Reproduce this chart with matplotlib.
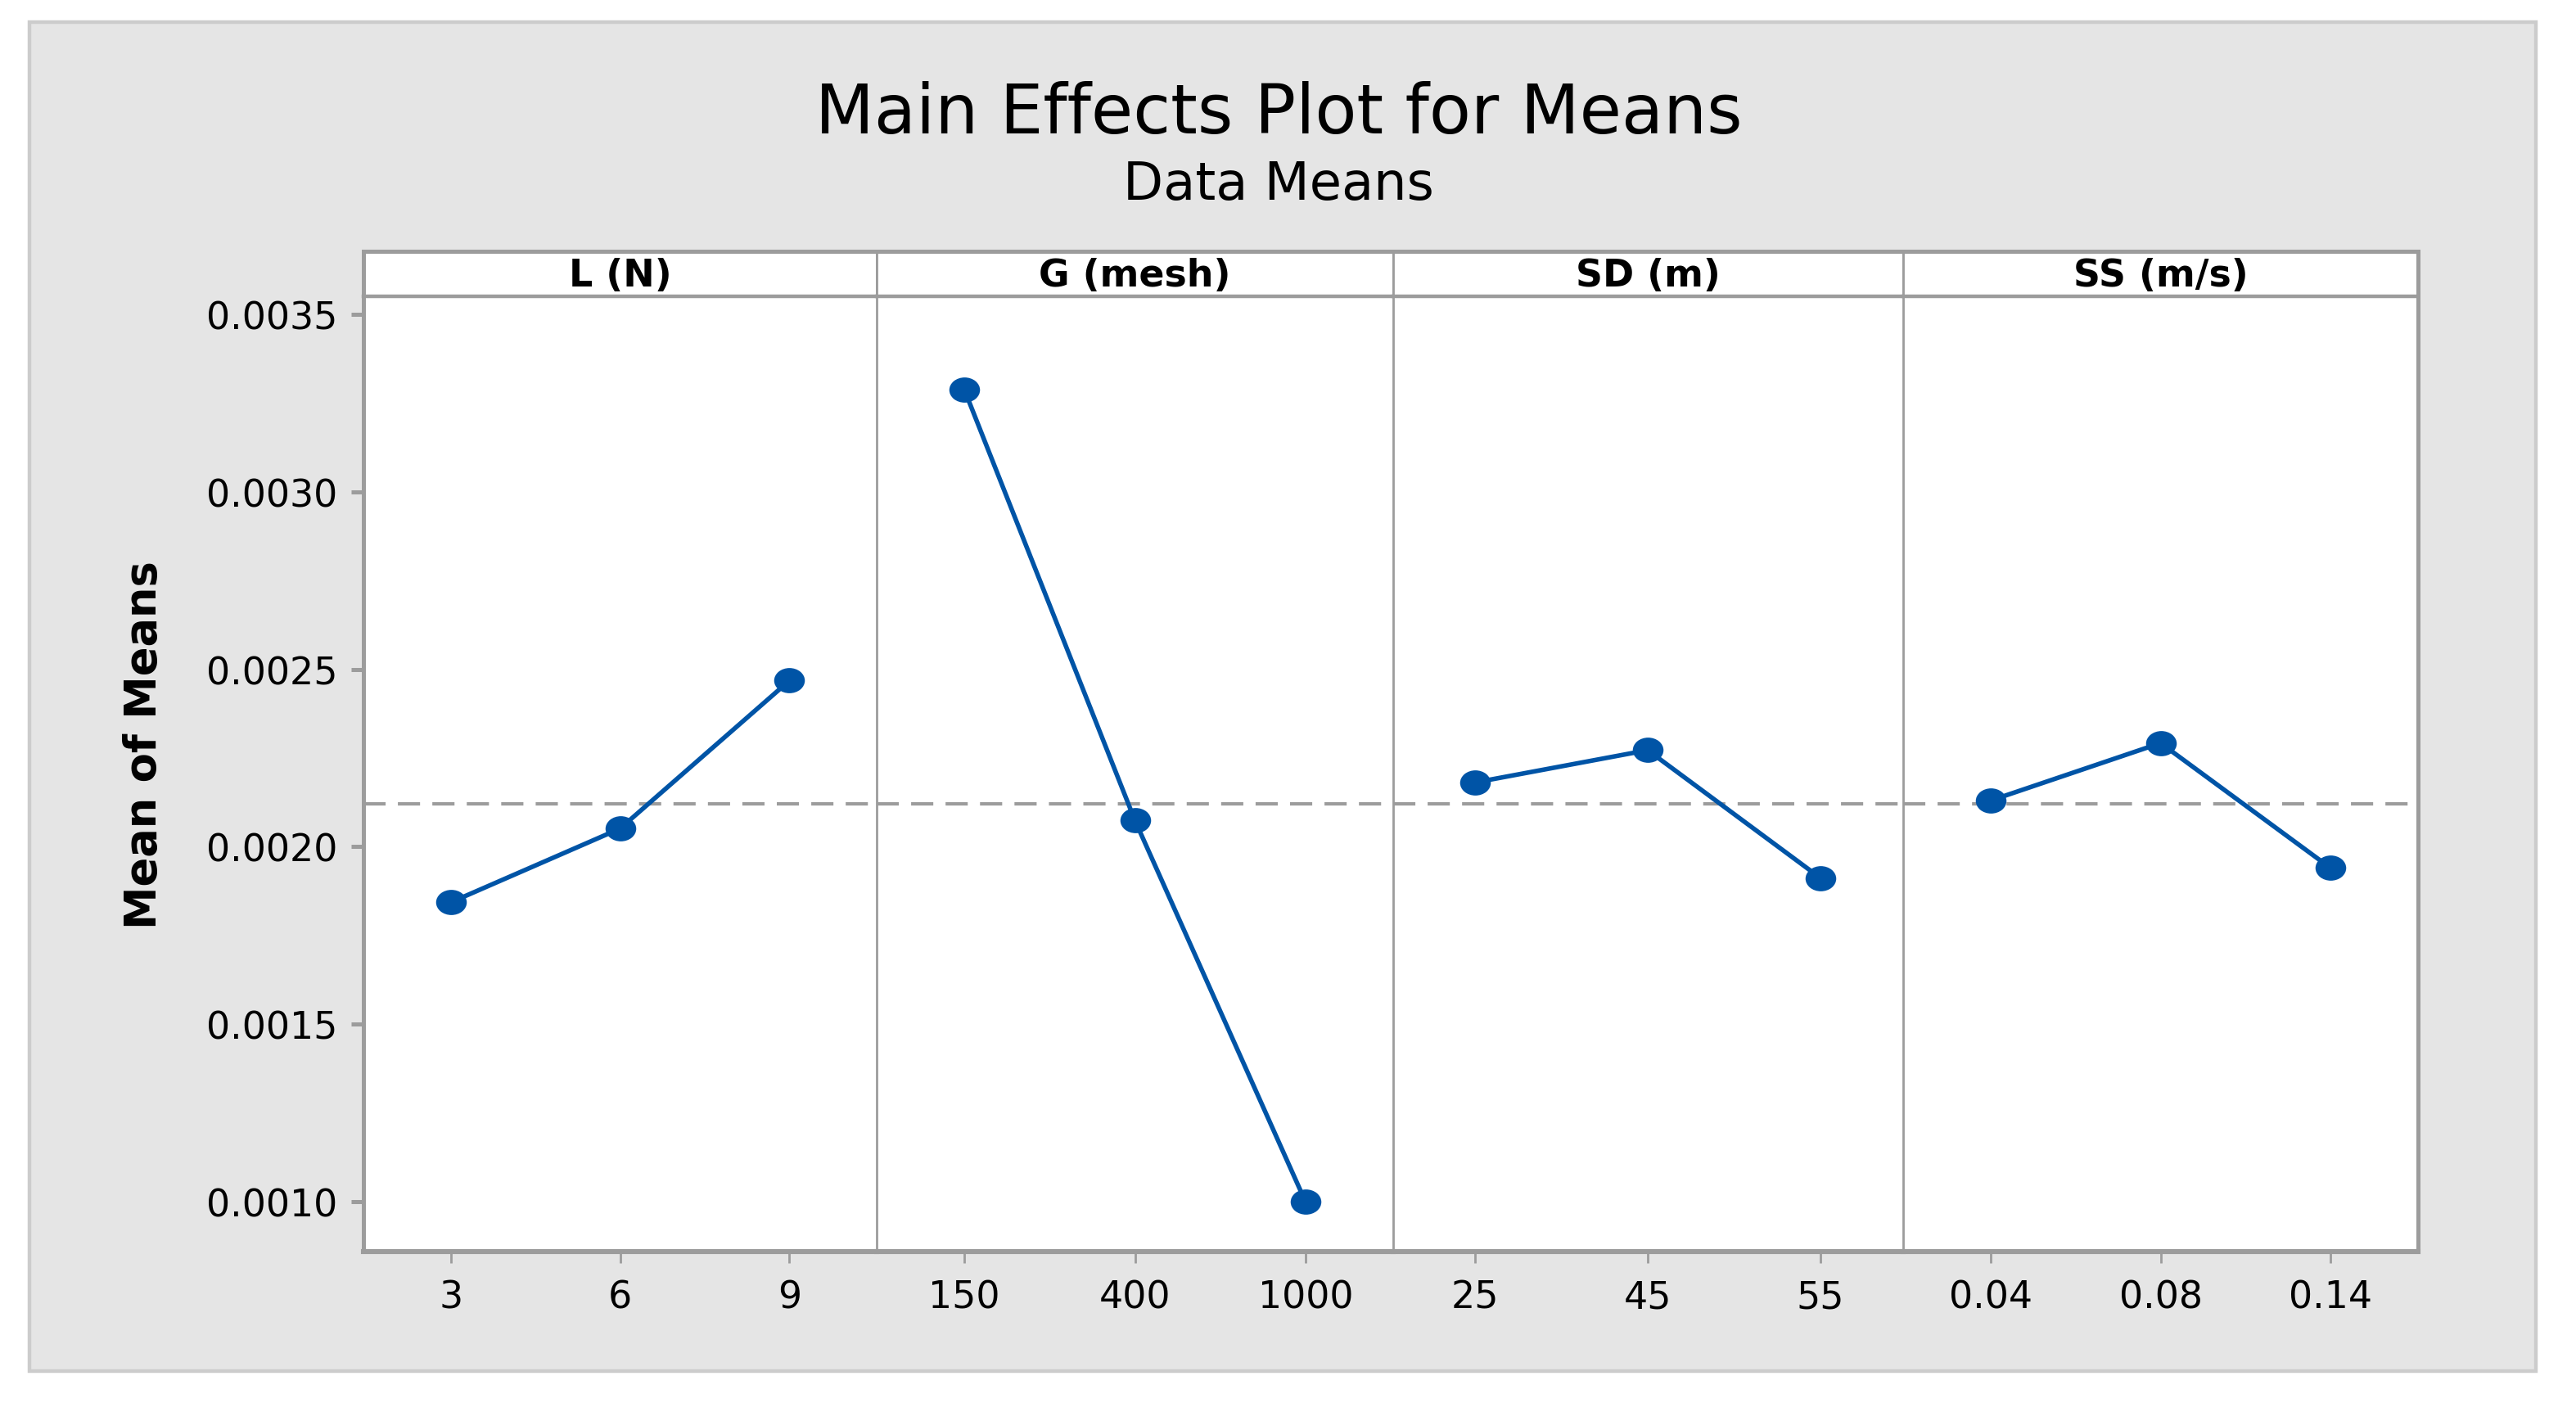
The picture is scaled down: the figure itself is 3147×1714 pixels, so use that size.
import matplotlib
matplotlib.use("Agg")
import matplotlib.pyplot as plt
from matplotlib.patches import Rectangle
from matplotlib.path import Path
from matplotlib.markers import MarkerStyle
import numpy as np

plt.rcParams['font.family'] = ['DejaVu Sans']

# ---- data ----
factors = ["L (N)", "G (mesh)", "SD (m)", "SS (m/s)"]
levels_L = ["3", "6", "9"]
levels_G = ["150", "400", "1000"]
levels_SD = ["25", "45", "55"]
levels_SS = ["0.04", "0.08", "0.14"]
means_L = [0.001843, 0.002051, 0.002468]
means_G = [0.003287, 0.002074, 0.001000]
means_SD = [0.002181, 0.002272, 0.001912]
means_SS = [0.002130, 0.002292, 0.001940]
grand_mean = 0.002121
y_ticks = [0.0010, 0.0015, 0.0020, 0.0025, 0.0030, 0.0035]
y_tick_labels = ["0.0010", "0.0015", "0.0020", "0.0025", "0.0030", "0.0035"]

levels = [levels_L, levels_G, levels_SD, levels_SS]
means = [means_L, means_G, means_SD, means_SS]

W, H = 3147, 1715
DPI = 200
fig = plt.figure(figsize=(W / DPI, H / DPI), dpi=DPI)
fig.patch.set_facecolor("white")

# outer grey frame (background axes)
bg = fig.add_axes([0, 0, 1, 1], zorder=-10)
bg.set_xlim(0, W)
bg.set_ylim(H, 0)
bg.axis("off")
bg.add_patch(Rectangle((36, 28), 3098 - 36, 1676 - 28, facecolor="#E5E5E5",
                       edgecolor="#CCCCCC", lw=1.6))

grey = "#9C9C9C"
blue = "#0054A6"

# elliptical marker (wider than tall)
circ = Path.unit_circle()
ell = Path(circ.vertices * np.array([1.0, 0.82]), circ.codes)
mk = MarkerStyle(ell)

top_px, strip_px, bottom_px = 308, 363, 1530
edges = [444, 1071, 1702, 2325, 2954]
xlims = [(0.485, 3.515), (0.485, 3.515), (0.525, 3.48), (0.485, 3.515)]

ylo, yhi = 0.000859, 0.003551

for i in range(4):
    x0 = edges[i] / W
    w = (edges[i + 1] - edges[i]) / W
    ax = fig.add_axes([x0, 1 - bottom_px / H, w, (bottom_px - strip_px) / H])
    ax.set_facecolor("white")
    xs = np.arange(1, len(levels[i]) + 1)
    ax.axhline(grand_mean, color=grey, lw=1.5, ls=(0, (6.5, 3.6)), zorder=1)
    ax.plot(xs, means[i], color=blue, lw=2.0, zorder=2)
    ax.plot(xs, means[i], ls="none", marker=mk, markersize=13.5, color=blue,
            markeredgewidth=0, zorder=3)
    ax.set_xlim(*xlims[i])
    ax.set_ylim(ylo, yhi)
    ax.set_xticks(xs)
    ax.set_xticklabels(levels[i], fontsize=16.5)
    ax.tick_params(axis="x", length=5, width=1.0, color=grey, pad=7)
    for s in ax.spines.values():
        s.set_color(grey)
    ax.spines["bottom"].set_linewidth(2.2)
    ax.spines["top"].set_visible(False)
    if i == 0:
        ax.spines["left"].set_linewidth(1.8)
    else:
        ax.spines["left"].set_linewidth(1.0)
    if i == 3:
        ax.spines["right"].set_linewidth(1.8)
    else:
        ax.spines["right"].set_visible(False)
    if i == 0:
        ax.set_yticks(y_ticks)
        ax.set_yticklabels(y_tick_labels, fontsize=16.5)
        ax.tick_params(axis="y", length=5.5, width=1.8, color=grey, pad=6)
    else:
        ax.set_yticks([])

    # strip
    sax = fig.add_axes([x0, 1 - strip_px / H, w, (strip_px - top_px) / H])
    sax.set_facecolor("white")
    sax.set_xticks([])
    sax.set_yticks([])
    for s in sax.spines.values():
        s.set_color(grey)
        s.set_linewidth(1.0)
    sax.spines["top"].set_linewidth(1.8)
    sax.spines["bottom"].set_linewidth(1.6)
    if i == 0:
        sax.spines["left"].set_linewidth(1.8)
    if i == 3:
        sax.spines["right"].set_linewidth(1.8)
    sax.text(0.5, 0.46, factors[i], ha="center", va="center", fontsize=16.5,
             fontweight="semibold", transform=sax.transAxes)

fig.text(1562 / W, 1 - 140 / H, "Main Effects Plot for Means", ha="center", va="center",
         fontsize=30)
fig.text(1562 / W, 1 - 226 / H, "Data Means", ha="center", va="center", fontsize=23)
fig.text(176 / W, 1 - 910 / H, "Mean of Means", ha="center", va="center", rotation=90,
         fontsize=19, fontweight="bold")

fig.savefig("out.png", dpi=DPI)
